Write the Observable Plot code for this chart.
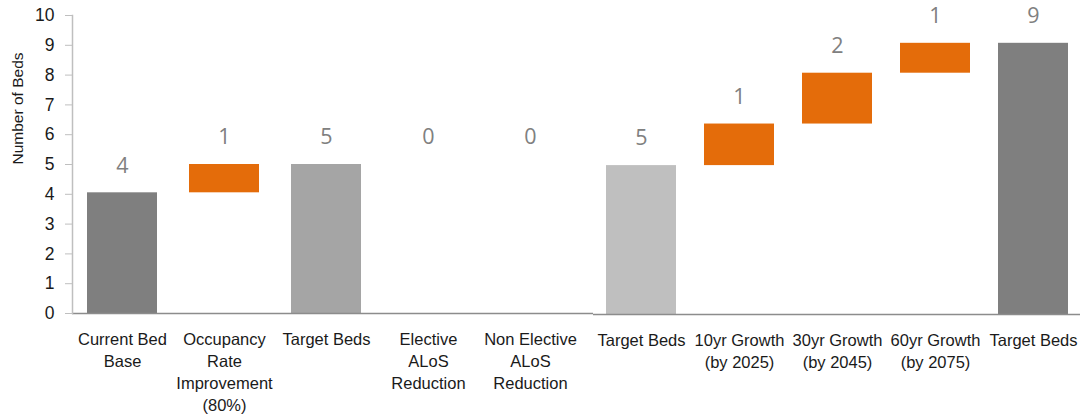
<!DOCTYPE html>
<html>
<head>
<meta charset="utf-8">
<script src="https://cdn.jsdelivr.net/npm/d3@7"></script>
<script src="https://cdn.jsdelivr.net/npm/@observablehq/plot@0.6"></script>
<style>
  html, body { margin: 0; padding: 0; background: #fff; }
  #chart { display: flex; width: 1080px; height: 415px; }
  #chart svg { display: block; }
</style>
</head>
<body>
<div id="chart"></div>
<script>
// Categories (tick labels, with line breaks as in the reference)
const categories = [
  "Current Bed\nBase",
  "Occupancy\nRate\nImprovement\n(80%)",
  "Target Beds",
  "Elective\nALoS\nReduction",
  "Non Elective\nALoS\nReduction",
  "Target Beds",
  "10yr Growth\n(by 2025)",
  "30yr Growth\n(by 2045)",
  "60yr Growth\n(by 2075)",
  "Target Beds"
];
// Bar values (totals are full bars, changes float on the running total)
const values = [4.05, 0.95, 5.0, 0, 0, 4.98, 1.39, 1.70, 1.00, 9.07];
// Kind of each bar
const kinds = ["base", "change", "target", "change", "change", "target2", "change", "change", "change", "final"];
const yTicks = [0, 1, 2, 3, 4, 5, 6, 7, 8, 9, 10];

// Build waterfall table
let running = 0;
const table = values.map((v, i) => {
  const total = kinds[i] !== "change";
  const y1 = total ? 0 : running;
  const y2 = total ? v : running + v;
  running = y2;
  return {key: i, kind: kinds[i], y1, y2, label: String(Math.round(v))};
});
const part1 = table.slice(0, 5);
const part2 = table.slice(5);

const colorScale = {
  domain: ["base", "change", "target", "target2", "final"],
  range: ["#7f7f7f", "#e46c0a", "#a5a5a5", "#bfbfbf", "#7f7f7f"]
};
const sans = "'Liberation Sans', Arial, sans-serif";
const numFont = "'Open Sans', 'Noto Sans', sans-serif";

function marksFor(data, withY) {
  const m = [
    Plot.barY(data, {x: "key", y1: "y1", y2: "y2", fill: "kind"}),
    Plot.ruleY([0], {stroke: "#8c8c8c", strokeWidth: 1.5}),
    Plot.axisX({tickSize: 0, tickPadding: 16, tickFormat: i => categories[i],
      fontSize: 16.5, lineHeight: 1.33, fill: "#1a1a1a", fontFamily: sans, label: null}),
    Plot.text(data, {x: "key", y: "y2", dy: -27, text: "label", fill: "#808080",
      fontSize: 21.5, fontFamily: numFont})
  ];
  if (withY) {
    m.push(
      Plot.frame({anchor: "left", stroke: "#bfbfbf", strokeWidth: 1.5}),
      Plot.axisY({ticks: yTicks, tickSize: 7, tickPadding: 11, stroke: "#bfbfbf",
        fontSize: 17.5, fill: "#1a1a1a", fontFamily: sans, tickFormat: d => String(d), label: null}),
      Plot.text(["Number of Beds"], {frameAnchor: "left", rotate: -90, dx: -54,
        fontSize: 15.5, fill: "#1a1a1a", fontFamily: sans})
    );
  }
  return m;
}

const plot1 = Plot.plot({
  width: 593, height: 415,
  marginLeft: 72, marginRight: 0, marginTop: 15, marginBottom: 102,
  x: {domain: part1.map(d => d.key), range: [72, 580], paddingInner: 0.317, paddingOuter: 0.137, label: null, axis: null},
  y: {domain: [0, 10], label: null, axis: null},
  color: colorScale,
  style: {background: "#fff", fontFamily: sans},
  marks: marksFor(part1, true)
});

const plot2 = Plot.plot({
  width: 487, height: 415,
  marginLeft: 0, marginRight: 0, marginTop: 15, marginBottom: 101,
  x: {domain: part2.map(d => d.key), paddingInner: 0.286, paddingOuter: 0.111, label: null, axis: null},
  y: {domain: [0, 10], label: null, axis: null},
  color: colorScale,
  style: {background: "#fff", fontFamily: sans},
  marks: marksFor(part2, false)
});

const chart = document.getElementById("chart");
chart.appendChild(plot1);
chart.appendChild(plot2);
</script>
</body>
</html>
